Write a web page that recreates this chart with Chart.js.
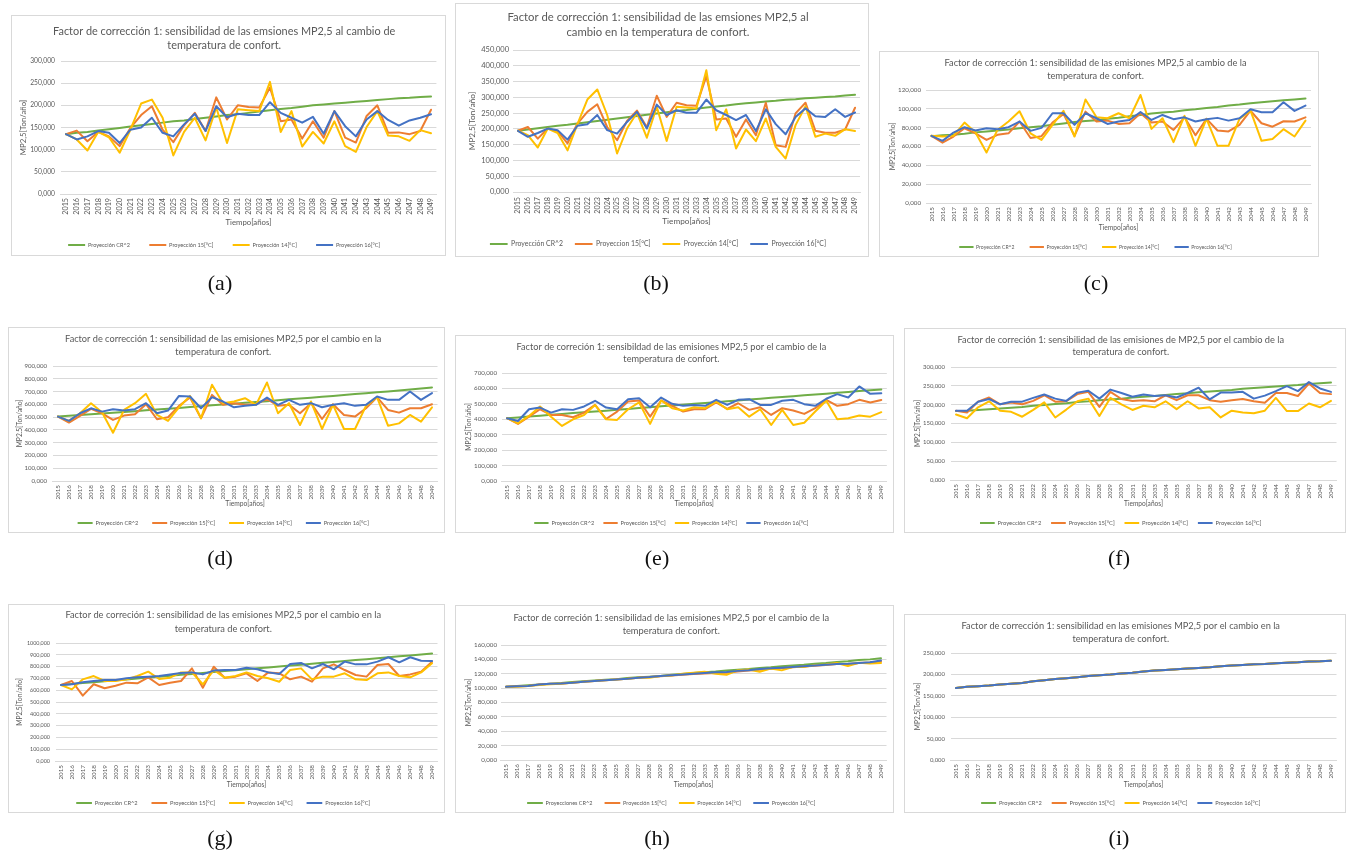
<!DOCTYPE html>
<html lang="es">
<head>
<meta charset="utf-8">
<title>Factor de corrección 1: sensibilidad de las emisiones MP2,5</title>
<script src="https://cdn.jsdelivr.net/npm/chart.js@4.4.1/dist/chart.umd.min.js"></script>
<style>
  html, body { margin: 0; padding: 0; background: #fff; }
  body { position: relative; width: 1350px; height: 854px; overflow: hidden; }
  .frame { position: absolute; box-sizing: border-box; border: 1px solid #d9d9d9; }
  canvas.plot { position: absolute; }
  .cap { position: absolute; transform: translate(-50%, -50%); font-family: "Liberation Serif", serif; font-size: 22px; color: #111; line-height: 1; }
</style>
</head>
<body>
<script>
// ---- categories ----
const years = ['2015','2016','2017','2018','2019','2020','2021','2022','2023','2024','2025','2026',
  '2027','2028','2029','2030','2031','2032','2033','2034','2035','2036','2037','2038','2039','2040',
  '2041','2042','2043','2044','2045','2046','2047','2048','2049'];

// ---- (a) ----
const aCR2 = [135,138,140,143,146,149,152,155,158,161,164,166,169,172,175,178,180,183,186,189,192,194,197,200,202,204,206,208,210,212,214,216,217,219,220];
const a15  = [135,143,119,140,130,108,149,178,198,145,117,155,183,142,218,168,200,196,195,240,164,168,125,164,127,187,127,116,176,200,138,139,135,142,190];
const a14  = [135,123,98,140,128,93,145,204,213,172,87,140,172,121,195,115,191,189,187,253,140,187,107,140,114,164,108,95,151,187,132,130,120,144,137];
const a16  = [135,123,130,142,138,115,145,150,172,138,130,157,181,142,198,173,181,178,178,207,183,172,161,174,136,187,153,130,168,187,167,154,166,172,180];

// ---- (b) ----
const bCR2 = [194,198,202,206,210,213,217,221,225,229,233,237,241,245,249,253,257,260,264,268,271,274,278,281,284,287,289,292,294,297,299,301,303,306,308];
const b15  = [194,206,169,201,193,154,217,254,278,206,164,225,258,205,305,238,283,275,273,367,230,233,175,230,180,283,148,143,249,283,194,188,188,198,267];
const b14  = [194,180,141,201,187,132,215,293,325,244,122,201,251,172,270,162,270,268,265,386,196,262,138,198,161,233,143,106,212,272,175,185,178,199,193];
const b16  = [194,175,187,201,196,166,210,215,244,196,185,222,254,201,277,244,259,251,251,293,259,244,228,244,193,262,215,183,238,265,240,238,262,238,252];

// ---- (c) ----
const cCR2 = [71,72,72.5,73.5,75,76,77,78,79.5,80.5,81.5,83,84.5,86,87,88,89.5,90.5,92,93.5,95,96,97,98.5,99.5,101,102,103.5,104.5,106,107,108,109,110,111];
const c15  = [71.3,64,70.6,79.4,74,67,72.4,74,86.5,69,71,85.4,94.6,71.3,97,86.5,87.5,84,84.7,95.3,85.4,86.5,77.6,91,72,89.3,77,76,83,98,84.7,81,86.8,86.5,91];
const c14  = [71.3,70.6,71.3,85.4,74.8,53.6,77.6,86.5,97.4,74,67,83,97.8,70.6,110,91,90,95.3,90,114.7,78.7,90,64.6,92.5,60.7,89.3,60.7,60.7,89.3,98,66,68,78.4,70.6,87.5];
const c16  = [71.3,66,74.8,80.5,77,79.4,78.4,80.5,86.5,76.6,79.8,95.3,95.3,83,95.3,90,84,86.5,88.2,96.7,88.2,93.5,89,91,86.5,89,90.4,87.5,90,99.5,96.4,96.4,107,97.8,103.4];

// ---- (d) ----
const dCR2 = [504,510,516,522,528,534,540,546,553,559,566,572,579,585,592,598,605,612,618,625,632,639,645,652,659,666,673,680,687,694,701,709,716,724,732];
const d15  = [504,457,509,564,530,478,512,522,601,483,499,588,653,491,674,596,609,596,601,643,588,596,530,609,485,601,517,504,569,656,556,535,569,569,601];
const d14  = [504,470,530,609,538,378,556,609,682,517,470,577,666,491,753,609,622,648,596,771,530,609,438,622,407,596,407,407,588,656,433,451,517,464,577];
const d16  = [504,470,530,569,543,562,551,562,609,530,551,666,661,569,656,622,577,588,596,653,596,635,596,609,577,596,609,588,596,661,635,635,701,635,688];

// ---- (e) ----
const eCR2 = [407,412,418,423,429,434,440,445,451,456,462,467,473,478,484,489,495,500,506,511,517,522,528,533,539,544,550,555,561,566,572,577,583,588,593];
const e15  = [407,370,417,465,428,428,413,443,493,402,450,515,522,417,522,487,450,465,465,509,467,504,461,478,428,472,457,435,472,526,487,498,526,509,525];
const e14  = [407,374,422,483,417,357,400,428,493,400,396,465,509,370,522,472,457,478,472,515,465,478,417,465,363,461,363,378,450,520,400,407,424,417,446];
const e16  = [407,389,465,476,443,465,461,483,520,476,465,530,537,478,541,500,487,493,487,526,493,526,530,493,493,520,526,498,487,533,563,541,613,565,568];

// ---- (f) ----
const fCR2 = [183,184,186,188,190,192,194,197,199,202,204,207,209,212,214,216,219,221,223,226,228,230,233,235,237,239,242,244,246,248,250,252,255,257,259];
const f15  = [184,179,208,219,201,206,201,210,225,208,209,228,234,194,234,215,210,212,209,225,212,225,225,212,208,212,215,209,205,231,231,223,256,231,228];
const f14  = [174,164,193,209,184,181,168,186,206,166,187,209,216,170,218,201,186,197,193,209,188,209,190,193,166,184,179,177,184,218,183,183,203,193,210];
const f16  = [184,184,208,215,201,208,208,218,227,216,210,232,237,216,240,231,221,227,223,225,219,231,245,214,232,232,234,216,224,236,249,236,260,243,234];

// ---- (g) ----
const gCR2 = [644,652,660,668,676,684,691,699,707,715,723,730,738,746,754,762,769,777,785,793,801,809,816,824,832,840,848,855,863,871,879,887,894,902,910];
const g15  = [644,678,554,650,616,638,664,658,709,644,664,678,785,621,799,706,715,743,678,751,743,692,715,672,785,819,771,729,715,814,822,720,734,757,842];
const g14  = [644,607,692,720,678,678,692,720,757,695,706,751,751,650,771,706,720,751,720,701,672,771,785,692,715,715,743,692,686,743,751,720,709,751,828];
const g16  = [644,650,667,678,686,686,701,709,715,720,734,746,751,734,766,771,771,791,777,751,737,822,831,785,822,777,842,819,819,842,879,836,879,850,847];

// ---- (h) ----
const hCR2 = [102,103,104,105,106,107,108.5,109.5,110.5,111.5,112.5,114,115,116,117,118.5,119.5,121,122,123,124.5,125.5,126.5,128,129,130.5,131.5,132.5,134,135,136.5,137.5,139,140,141.5];
const h15  = [102,102.5,103,105,106,106.5,107.5,109,110,111,112,113,114.5,115.5,116.5,117.5,118.5,119.5,120.5,121,121.5,123,124.5,125.5,127,127.5,129,130,131,132,133.5,133.5,135,135.5,137];
const h14  = [102,102,103,104.5,105.5,106,107.5,109,110,111,112,113,114.5,114.5,117,117.5,120,121.4,122.8,120,118.6,124.7,126,122.8,127.4,124.7,129.3,129.3,132,133,134.9,130.7,135.3,134.4,135];
const h16  = [102,102.5,103,105,106,106.5,107.5,109,110,111,112,113,114.5,115.5,117,118,119,120,121,122,122.5,124,125,126.5,127.5,128.5,129.5,130.5,131.5,132.5,133.5,134,135,136,138.5];

// ---- (i): the four projections coincide ----
const iCR2 = [168,171,172.6,174,176.5,178,180,184,186.5,189,191,193.5,196,198,199.7,202,204,206.7,209,210.5,212,213.6,215,216.7,219,220.6,222,223.7,224.5,226,227.5,228.3,230,230.7,232];
const i15  = [168,171,172.6,174,176.5,178,180,184,186.5,189,191,193.5,196,198,199.7,202,204,206.7,209,210.5,212,213.6,215,216.7,219,220.6,222,223.7,224.5,226,227.5,228.3,230,230.7,232];
const i14  = [168,171,172.6,174,176.5,178,180,184,186.5,189,191,193.5,196,198,199.7,202,204,206.7,209,210.5,212,213.6,215,216.7,219,220.6,222,223.7,224.5,226,227.5,228.3,230,230.7,232];
const i16  = [168,171,172.6,174,176.5,178,180,184,186.5,189,191,193.5,196,198,199.7,202,204,206.7,209,210.5,212,213.6,215,216.7,219,220.6,222,223.7,224.5,226,227.5,228.3,230,230.7,232];

// ---- value axes ----
const yMax  = [300, 450, 120, 900, 700, 300, 1000, 160, 250];
const yStep = [50, 50, 20, 100, 100, 50, 100, 20, 50];

// ---- texts ----
const captions = ['(a)','(b)','(c)','(d)','(e)','(f)','(g)','(h)','(i)'];
const titles = [
  ['Factor de corrección 1: sensibilidad de las emsiones MP2,5 al cambio de', 'temperatura de confort.'],
  ['Factor de corrección 1: sensibilidad de las emsiones MP2,5 al', 'cambio en la temperatura de confort.'],
  ['Factor de corrección 1: sensibilidad de las emisiones MP2,5 al cambio de la', 'temperatura de confort.'],
  ['Factor de corrección 1: sensibilidad de las emisiones MP2,5 por el cambio en la', 'temperatura de confort.'],
  ['Factor de correción 1: sensibildad de las emisiones MP2,5 por el cambio de la', 'temperatura de confort.'],
  ['Factor de correción 1: sensibilidad de las emisiones de MP2,5 por el cambio de la', 'temperatura de confort.'],
  ['Factor de correción 1: sensibilidad de las emisiones MP2,5 por el cambio en la', 'temperatura de confort.'],
  ['Factor de correción 1: sensibilidad de las emisiones MP2,5 por el cambio de la', 'temperatura de confort.'],
  ['Factor de corrección 1: sensibilidad en las emisiones MP2,5 por el cambio en la', 'temperatura de confort.']
];
const yTitles = ['MP2,5[Ton/año]','MP2,5[Ton/año]','MP2,5[Ton/año]','MP2.5[Ton/año]','MP2,5[Ton/año]',
  'MP2.5[Ton/año]','MP2,5[Ton/año]','MP2,5[Ton/año]','MP2,5[Ton/año]'];
const xTitle = 'Tiempo[años]';
const namesStd = ['Proyección CR^2', 'Proyección 15[°C]', 'Proyección 14[°C]', 'Proyección 16[°C]'];
const namesB   = ['Proyección CR^2', 'Proyeccion 15[°C]', 'Proyección 14[°C]', 'Proyección 16[°C]'];
const namesH   = ['Proyecciones CR^2', 'Proyección 15[°C]', 'Proyección 14[°C]', 'Proyección 16[°C]'];
const seriesNames = [namesStd, namesB, namesStd, namesStd, namesStd, namesStd, namesStd, namesH, namesStd];
const seriesData = [
  [aCR2, a15, a14, a16], [bCR2, b15, b14, b16], [cCR2, c15, c14, c16],
  [dCR2, d15, d14, d16], [eCR2, e15, e14, e16], [fCR2, f15, f14, f16],
  [gCR2, g15, g14, g16], [hCR2, h15, h14, h16], [iCR2, i15, i14, i16]
];

// ---- page layout (px): frame box, plot area, text anchors and font sizes ----
const layout = [
  {box:[11,15,446,256],  plot:[60.6,436.4,61,194],  tY:31,  tLh:14,   tFs:10.9, yTickR:55,  xTickT:198, xTitleY:222, legY:245, yTitleX:23,  tickFs:6.7,  xTickFs:7.2, axFs:7.8, legFs:5.6, legLine:17,   legGap:21,   cap:[220,283]},
  {box:[455,3,869,257],  plot:[513,860,50,192],     tY:17,  tLh:15,   tFs:11.3, yTickR:509, xTickT:197, xTitleY:221, legY:244, yTitleX:472, tickFs:7.5,  xTickFs:7.2, axFs:8.2, legFs:6.9, legLine:17.7, legGap:14.3, cap:[656,283]},
  {box:[879,51,1319,257],plot:[926,1311,90,203],    tY:63,  tLh:13,   tFs:9.25, yTickR:921, xTickT:207, xTitleY:228, legY:247, yTitleX:893, tickFs:6.2,  xTickFs:6.3, axFs:6.7, legFs:5.1, legLine:14.3, legGap:16.7, cap:[1096,283]},
  {box:[8,327,445,533],  plot:[52.5,437.5,366,481], tY:339, tLh:13,   tFs:9.2,  yTickR:47,  xTickT:485, xTitleY:504, legY:523, yTitleX:20,  tickFs:6.1,  xTickFs:6.3, axFs:6.7, legFs:5.7, legLine:15,   legGap:15.7, cap:[220,558]},
  {box:[455,335,894,533],plot:[501.5,886.8,373,481],tY:347, tLh:12.5, tFs:9.2,  yTickR:497, xTickT:485, xTitleY:504, legY:523, yTitleX:469, tickFs:6.2,  xTickFs:6.3, axFs:6.7, legFs:5.7, legLine:14.3, legGap:11,   cap:[657,558]},
  {box:[904,328,1346,533],plot:[950.5,1336.5,367,480],tY:340,tLh:12,  tFs:9.25, yTickR:945, xTickT:484, xTitleY:504, legY:523, yTitleX:918, tickFs:5.95, xTickFs:6.3, axFs:6.6, legFs:5.8, legLine:14.7, legGap:11.7, cap:[1119,558]},
  {box:[8,604,445,813],  plot:[55.5,437.5,643,761], tY:615, tLh:14,   tFs:9.3,  yTickR:50,  xTickT:765, xTitleY:785, legY:803, yTitleX:20,  tickFs:5.4,  xTickFs:6.3, axFs:6.7, legFs:5.7, legLine:15.7, legGap:15.7, cap:[220,838]},
  {box:[455,605,894,813],plot:[500.5,886.5,645,760],tY:618, tLh:13,   tFs:9.3,  yTickR:497, xTickT:764, xTitleY:785, legY:803, yTitleX:469, tickFs:6.2,  xTickFs:6.3, axFs:6.7, legFs:5.5, legLine:15.7, legGap:14,   cap:[657,838]},
  {box:[904,614,1346,813],plot:[950.5,1336.5,653,760],tY:626,tLh:13,  tFs:9.25, yTickR:945, xTickT:764, xTitleY:785, legY:803, yTitleX:918, tickFs:5.95, xTickFs:6.3, axFs:6.7, legFs:5.7, legLine:15,   legGap:11.7, cap:[1119,838]}
];

const lineColors = ['#70AD47', '#ED7D31', '#FFC000', '#4472C4'];
const drawOrder = [4, 3, 2, 1];   // later series painted on top
const textColor = '#595959';
const gridColor = '#d9d9d9';
const CANVAS_EXTRA = 16;          // room below each frame for the legend row
const fmtTick = v => Number(v).toFixed(3).replace('.', ',');

Chart.defaults.font.family = 'Lato, "Open Sans", sans-serif';
Chart.defaults.color = textColor;

function buildPanel(k) {
  const L = layout[k];
  const [bl, bt, br, bb] = L.box;

  const frame = document.createElement('div');
  frame.className = 'frame';
  Object.assign(frame.style, {left: bl + 'px', top: bt + 'px', width: (br - bl) + 'px', height: (bb - bt) + 'px'});
  document.body.appendChild(frame);

  const cx = bl + 1, cy = bt + 1;
  const cw = Math.round(br - bl - 2), ch = Math.round(bb - bt - 2 + CANVAS_EXTRA);
  const cv = document.createElement('canvas');
  cv.className = 'plot';
  cv.width = cw; cv.height = ch;
  Object.assign(cv.style, {left: cx + 'px', top: cy + 'px', width: cw + 'px', height: ch + 'px'});
  document.body.appendChild(cv);

  // plot area inside the canvas
  const areaL = L.plot[0] - cx, areaR = L.plot[1] - cx, areaT = L.plot[2] - cy, areaB = L.plot[3] - cy;
  // title block
  const tPadTop = L.tY - cy - L.tLh / 2;
  const tPadBottom = areaT - (tPadTop + 2 * L.tLh);
  // legend block
  const legPad = L.legGap + 1 - L.legFs / 2;
  const legCenter = L.legY - cy;
  const legTop = legCenter - legPad - L.legFs / 2;
  const legBottom = legTop + L.legFs + legPad + 10;
  const padBottom = ch - legBottom;
  // axes
  const axLh = L.axFs * 1.2;
  const xH = legTop - areaB;
  const xTitlePadBottom = legTop - (L.xTitleY - cy) - axLh / 2;
  const yW = areaL;
  const yTitlePadTop = (L.yTitleX - cx) - axLh / 2;
  const padRight = cw - areaR;
  const tickPadY = areaL - (L.yTickR - cx);
  const tickPadX = (L.xTickT - cy) - areaB;

  const datasets = seriesData[k].map((vals, s) => ({
    label: seriesNames[k][s],
    data: vals,
    borderColor: lineColors[s],
    backgroundColor: lineColors[s],
    borderWidth: 2,
    pointRadius: 0,
    pointHoverRadius: 0,
    tension: 0,
    fill: false,
    borderJoinStyle: 'round',
    borderCapStyle: 'round',
    order: drawOrder[s]
  }));

  new Chart(cv, {
    type: 'line',
    data: {labels: years, datasets},
    options: {
      responsive: false,
      animation: false,
      devicePixelRatio: 1,
      events: [],
      layout: {padding: {top: 0, left: 0, right: padRight, bottom: padBottom}},
      plugins: {
        tooltip: {enabled: false},
        title: {
          display: true,
          text: titles[k],
          color: textColor,
          font: {size: L.tFs, weight: 'normal', lineHeight: L.tLh + 'px'},
          padding: {top: tPadTop, bottom: tPadBottom}
        },
        legend: {
          position: 'bottom',
          labels: {
            usePointStyle: true,
            pointStyle: 'line',
            pointStyleWidth: L.legLine,
            padding: legPad,
            color: textColor,
            font: {size: L.legFs},
            sort: (a, b) => a.datasetIndex - b.datasetIndex
          }
        }
      },
      scales: {
        x: {
          type: 'category',
          offset: true,
          grid: {display: false, drawTicks: false},
          border: {display: true, color: gridColor, width: 1},
          ticks: {autoSkip: false, minRotation: 90, maxRotation: 90, padding: tickPadX,
                  font: {size: L.xTickFs, lineHeight: 1}, color: textColor},
          title: {display: true, text: xTitle, color: textColor,
                  font: {size: L.axFs, lineHeight: axLh + 'px'}, padding: {top: 0, bottom: xTitlePadBottom}},
          afterFit: s => { s.height = xH; s.paddingLeft = 0; s.paddingRight = 0; }
        },
        y: {
          min: 0,
          max: yMax[k],
          grid: {color: gridColor, lineWidth: 1, drawTicks: false},
          border: {display: false},
          ticks: {stepSize: yStep[k], padding: tickPadY, font: {size: L.tickFs}, color: textColor,
                  callback: v => fmtTick(v)},
          title: {display: true, text: yTitles[k], color: textColor,
                  font: {size: L.axFs, lineHeight: axLh + 'px'}, padding: {top: yTitlePadTop, bottom: 0}},
          afterFit: s => { s.width = yW; s.paddingTop = 0; s.paddingBottom = 0; }
        }
      }
    }
  });

  const cap = document.createElement('div');
  cap.className = 'cap';
  cap.textContent = captions[k];
  cap.style.left = L.cap[0] + 'px';
  cap.style.top = L.cap[1] + 'px';
  document.body.appendChild(cap);
}

for (let k = 0; k < layout.length; k++) buildPanel(k);
</script>
</body>
</html>
